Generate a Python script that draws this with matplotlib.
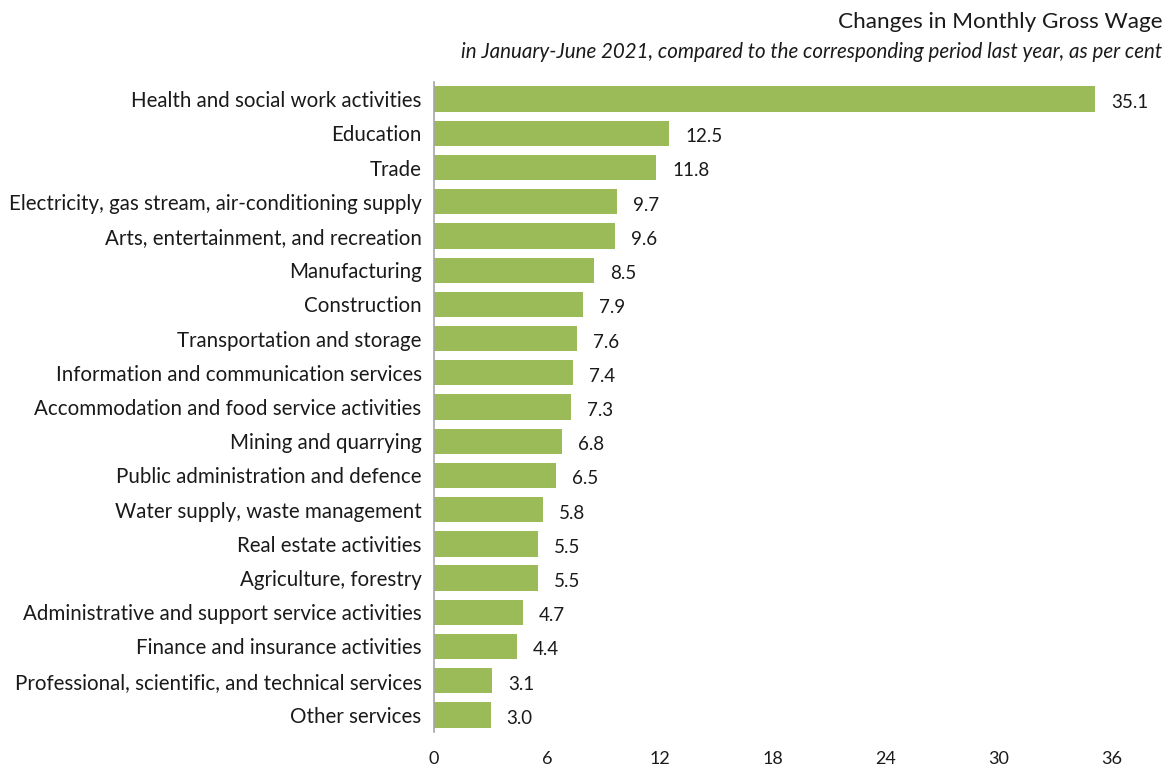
import matplotlib
matplotlib.use("Agg")
import matplotlib.pyplot as plt

categories = [
    "Health and social work activities",
    "Education",
    "Trade",
    "Electricity, gas stream, air-conditioning supply",
    "Arts, entertainment, and recreation",
    "Manufacturing",
    "Construction",
    "Transportation and storage",
    "Information and communication services",
    "Accommodation and food service activities",
    "Mining and quarrying",
    "Public administration and defence",
    "Water supply, waste management",
    "Real estate activities",
    "Agriculture, forestry",
    "Administrative and support service activities",
    "Finance and insurance activities",
    "Professional, scientific, and technical services",
    "Other services",
]
values = [35.1, 12.5, 11.8, 9.7, 9.6, 8.5, 7.9, 7.6, 7.4, 7.3, 6.8, 6.5, 5.8, 5.5, 5.5, 4.7, 4.4, 3.1, 3.0]
xticks = [0, 6, 12, 18, 24, 30, 36]

plt.rcParams['font.family'] = ['Lato', 'DejaVu Sans']
txt = '#1a1a1a'

fig = plt.figure(figsize=(11.76, 7.69), dpi=100)
ax = fig.add_axes([434/1176, 1-732/769, (1112-434)/1176, (732-82)/769])

y = list(range(len(categories)))
ax.barh(y, values, height=0.74, color='#9BBB59')
for yi, v in zip(y, values):
    ax.text(v + 0.85, yi + 0.1, f"{v:.1f}", va='center', ha='left', fontsize=13.5, color=txt)

ax.set_ylim(len(categories) - 0.5, -0.5)
ax.set_xlim(0, 36)
ax.set_yticks(y)
ax.set_yticklabels(categories, fontsize=14.8, color=txt)
ax.set_xticks(xticks)
ax.set_xticklabels([str(t) for t in xticks], fontsize=13, color=txt)
ax.tick_params(axis='both', length=0)
ax.tick_params(axis='y', pad=9)
ax.tick_params(axis='x', pad=14)
for s in ['top', 'right', 'bottom']:
    ax.spines[s].set_visible(False)
ax.spines['left'].set_color('#A6A6A6')
ax.spines['left'].set_linewidth(1.2)

fig.text(1162/1176, 1-22/769, "Changes in Monthly Gross Wage", ha='right', va='center', fontsize=16.2, color=txt)
fig.text(1162/1176, 1-52/769, "in January-June 2021, compared to the corresponding period last year, as per cent",
         ha='right', va='center', fontsize=14.8, style='italic', color=txt)

fig.savefig("out.png", dpi=100)
